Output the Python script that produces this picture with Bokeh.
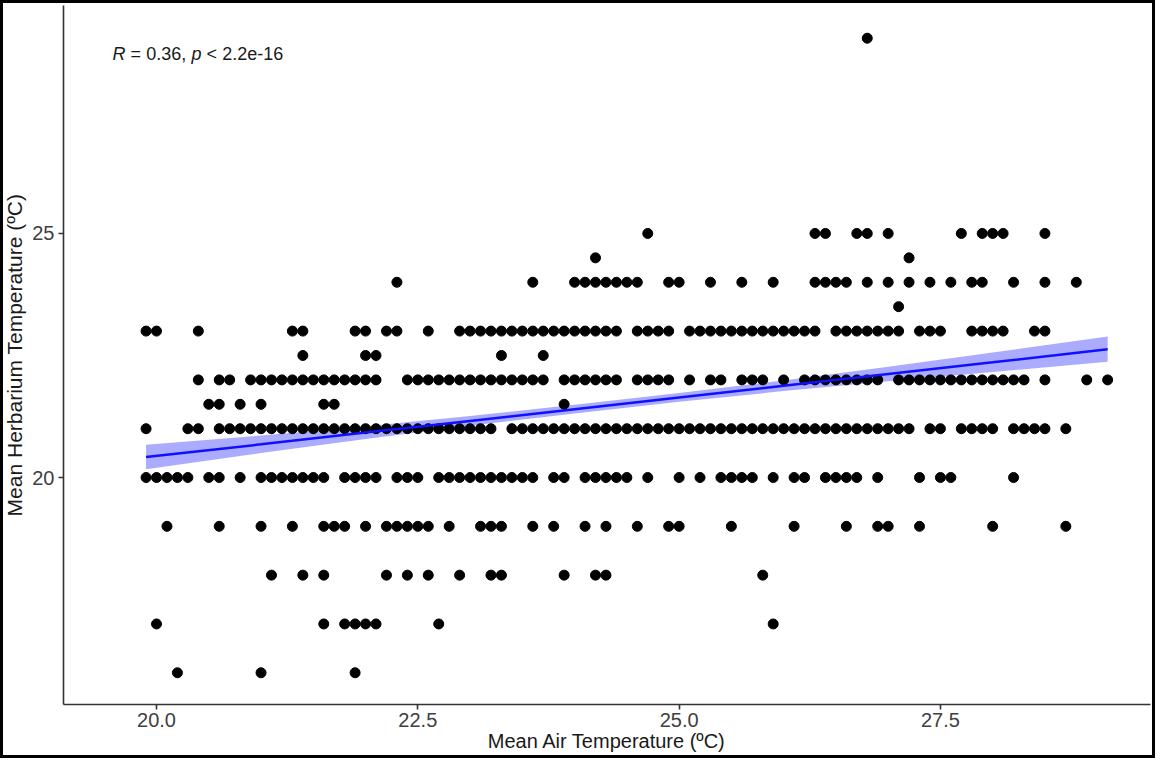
import numpy as np
from bokeh.plotting import figure
from bokeh.models import Range1d, FixedTicker, InlineStyleSheet
from bokeh.core.properties import value
from bokeh.embed import file_html
from bokeh.resources import INLINE

# ---- data: herbarium temperature levels and the air temperatures observed at each ----
x_at_29 = [26.8]
x_at_25 = [24.7, 26.3, 26.4, 26.7, 26.8, 27.0, 27.7, 27.9, 28.0, 28.1, 28.5]
x_at_24_5 = [24.2, 27.2]
x_at_24 = [22.3, 23.6, 24.0, 24.1, 24.2, 24.3, 24.4, 24.5, 24.6, 24.9, 25.0, 25.3,
           25.6, 25.9, 26.3, 26.4, 26.5, 26.6, 26.8, 27.0, 27.2, 27.4, 27.6, 27.8,
           27.9, 28.2, 28.5, 28.8]
x_at_23_5 = [27.1]
x_at_23 = [19.9, 20.0, 20.4, 21.3, 21.4, 21.9, 22.0, 22.2, 22.3, 22.6,
           22.9, 23.0, 23.1, 23.2, 23.3, 23.4, 23.5, 23.6, 23.7, 23.8, 23.9, 24.0,
           24.1, 24.2, 24.3, 24.4,
           24.6, 24.7, 24.8, 24.9,
           25.1, 25.2, 25.3, 25.4, 25.5, 25.6, 25.7, 25.8, 25.9, 26.0, 26.1, 26.2, 26.3,
           26.5, 26.6, 26.7, 26.8, 26.9, 27.0, 27.1,
           27.3, 27.4, 27.5,
           27.8, 27.9, 28.0, 28.1,
           28.4, 28.5]
x_at_22_5 = [21.4, 22.0, 22.1, 23.3, 23.7]
x_at_22 = [20.4, 20.6, 20.7,
           20.9, 21.0, 21.1, 21.2, 21.3, 21.4, 21.5, 21.6, 21.7, 21.8, 21.9, 22.0, 22.1,
           22.4, 22.5, 22.6, 22.7, 22.8, 22.9, 23.0, 23.1, 23.2, 23.3, 23.4, 23.5, 23.6, 23.7,
           23.9, 24.0, 24.1, 24.2, 24.3, 24.4,
           24.6, 24.7, 24.8, 24.9,
           25.1, 25.3, 25.4, 25.6, 25.7, 25.8, 26.0,
           26.2, 26.3, 26.4, 26.5, 26.6, 26.7, 26.8, 26.9,
           27.1, 27.2, 27.3, 27.4, 27.5, 27.6, 27.7, 27.8, 27.9, 28.0, 28.1, 28.2, 28.3,
           28.5, 28.9, 29.1]
x_at_21_5 = [20.5, 20.6, 20.8, 21.0, 21.6, 21.7, 23.9]
x_at_21 = [19.9, 20.3, 20.4,
           20.6, 20.7, 20.8, 20.9, 21.0, 21.1, 21.2, 21.3, 21.4, 21.5, 21.6, 21.7, 21.8,
           21.9, 22.0, 22.1, 22.2, 22.3, 22.4, 22.5, 22.6, 22.7, 22.8, 22.9, 23.0, 23.1, 23.2,
           23.4, 23.5, 23.6, 23.7, 23.8, 23.9, 24.0, 24.1, 24.2, 24.3, 24.4, 24.5, 24.6,
           24.7, 24.8, 24.9, 25.0, 25.1, 25.2, 25.3, 25.4, 25.5, 25.6, 25.7, 25.8, 25.9,
           26.0, 26.1, 26.2, 26.3, 26.4, 26.5, 26.6, 26.7, 26.8, 26.9, 27.0, 27.1, 27.2,
           27.4, 27.5, 27.7, 27.8, 27.9, 28.0, 28.2, 28.3, 28.4, 28.5, 28.7]
x_at_20 = [19.9, 20.0, 20.1, 20.2, 20.3, 20.5, 20.6, 20.8,
           21.0, 21.1, 21.2, 21.3, 21.4, 21.5, 21.6,
           21.8, 21.9, 22.0, 22.1, 22.3, 22.4, 22.5,
           22.7, 22.8, 22.9, 23.0, 23.1, 23.2, 23.3, 23.4, 23.5, 23.6,
           23.8, 23.9, 24.1, 24.2, 24.3, 24.4, 24.5, 24.7, 25.0, 25.2,
           25.4, 25.5, 25.6, 25.7, 25.9, 26.1, 26.2, 26.4, 26.5, 26.6, 26.7,
           26.9, 27.3, 27.5, 27.6, 28.2]
x_at_19 = [20.1, 20.6, 21.0, 21.3, 21.6, 21.7, 21.8, 22.0, 22.2, 22.3, 22.4, 22.5, 22.6,
           22.8, 23.1, 23.2, 23.3, 23.6, 23.8, 24.1, 24.3, 24.6, 24.9, 25.0, 25.5,
           26.1, 26.6, 26.9, 27.0, 27.3, 28.0, 28.7]
x_at_18 = [21.1, 21.4, 21.6, 22.2, 22.4, 22.6, 22.9, 23.2, 23.3, 23.9, 24.2, 24.3, 25.8]
x_at_17 = [20.0, 21.6, 21.8, 21.9, 22.0, 22.1, 22.7, 25.9]
x_at_16 = [20.2, 21.0, 21.9]

rows = [(29, x_at_29), (25, x_at_25), (24.5, x_at_24_5), (24, x_at_24), (23.5, x_at_23_5),
        (23, x_at_23), (22.5, x_at_22_5), (22, x_at_22), (21.5, x_at_21_5), (21, x_at_21),
        (20, x_at_20), (19, x_at_19), (18, x_at_18), (17, x_at_17), (16, x_at_16)]

air = []
herb = []
for yv, xs in rows:
    air.extend(xs)
    herb.extend([yv] * len(xs))

# linear fit with 95% confidence band
fit_x = [19.9, 21.0, 22.0, 23.0, 24.0, 25.0, 26.0, 27.0, 28.0, 29.1]
fit_y = [20.42, 20.68, 20.92, 21.16, 21.40, 21.64, 21.88, 22.12, 22.36, 22.63]
fit_lo = [20.17, 20.50, 20.79, 21.06, 21.31, 21.55, 21.77, 21.97, 22.16, 22.37]
fit_hi = [20.67, 20.86, 21.05, 21.26, 21.49, 21.73, 21.99, 22.27, 22.56, 22.89]

x_ticks = [20.0, 22.5, 25.0, 27.5]
x_tick_labels = ["20.0", "22.5", "25.0", "27.5"]
y_ticks = [20, 25]
y_tick_labels = ["20", "25"]

stat_pos = (19.58, 28.67)
stat_parts = [("R", "italic"), ("= 0.36,", "normal"), ("p", "italic"), ("< 2.2e-16", "normal")]

FONT = "Liberation Sans"

W, H = 1155, 758
p = figure(width=W, height=H, output_backend="svg", toolbar_location=None,
           x_range=Range1d(19.11, 29.51), y_range=Range1d(15.35, 29.67),
           min_border_left=63, min_border_right=5, min_border_top=5, min_border_bottom=54)
p.background_fill_color = "white"
p.border_fill_color = "white"
p.outline_line_color = None
p.xgrid.visible = False
p.ygrid.visible = False

# black frame around the whole picture (drawn over the canvas)
p.stylesheets = [InlineStyleSheet(css="""
:host { position: relative; }
:host::after {
  content: "";
  position: absolute;
  left: 0; top: 0; right: 0; bottom: 0;
  border: 3px solid #000;
  pointer-events: none;
  z-index: 1000;
}
""")]

p.varea(x=fit_x, y1=fit_lo, y2=fit_hi, fill_color="#0000ff", fill_alpha=0.33)
p.scatter(air, herb, size=10, marker="circle", fill_color="black", line_color="black")
p.line(fit_x, fit_y, line_color="#1010ff", line_width=2.5)

offsets = [0, 18, 79, 94]
for (txt, style), off in zip(stat_parts, offsets):
    p.text(x=[stat_pos[0]], y=[stat_pos[1]], text=[txt], x_offset=off,
           text_font=value(FONT), text_font_style=style, text_font_size="18px",
           text_color="#1a1a1a", text_baseline="middle", text_align="left")

for ax in (p.xaxis[0], p.yaxis[0]):
    ax.axis_line_color = "#333333"
    ax.axis_line_width = 1.6
    ax.major_tick_line_color = "#333333"
    ax.major_tick_line_width = 1.6
    ax.major_tick_out = 5
    ax.major_tick_in = 0
    ax.minor_tick_line_color = None
    ax.major_label_text_font = FONT
    ax.major_label_text_font_size = "20px"
    ax.major_label_text_color = "#404040"
    ax.axis_label_text_font = FONT
    ax.axis_label_text_font_size = "21px"
    ax.axis_label_text_font_style = "normal"
    ax.axis_label_text_color = "#1a1a1a"
    ax.major_label_standoff = 4

p.xaxis.ticker = FixedTicker(ticks=x_ticks)
p.xaxis.major_label_overrides = dict(zip(x_ticks, x_tick_labels))
p.yaxis.ticker = FixedTicker(ticks=y_ticks)
p.yaxis.major_label_overrides = dict(zip(y_ticks, y_tick_labels))
p.xaxis.axis_label = "Mean Air Temperature (ºC)"
p.yaxis.axis_label = "Mean Herbarium Temperature (ºC)"
p.xaxis.axis_label_text_font_size = "20px"
p.xaxis.major_label_standoff = 3
p.xaxis.axis_label_standoff = 0
p.yaxis.axis_label_standoff = 3

open("out.html", "w").write(file_html(p, INLINE))
